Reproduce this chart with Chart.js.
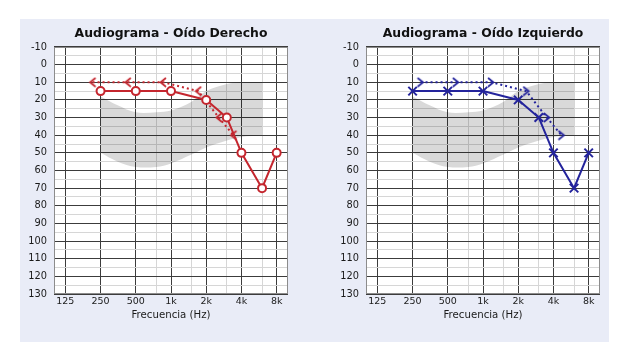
<!DOCTYPE html>
<html><head><meta charset="utf-8">
<script src="https://cdn.jsdelivr.net/npm/chart.js@4"></script>
<style>
html,body{margin:0;padding:0;background:#fff;width:634px;height:360px;overflow:hidden;position:relative}
#panel{position:absolute;left:20px;top:19px;width:589px;height:323px;background:#e9ecf7}
canvas{position:absolute;top:0}
#cR{left:0}
#cL{left:317px}
</style></head><body>
<div id="panel"></div>
<canvas id="cR" width="317" height="360"></canvas>
<canvas id="cL" width="317" height="360"></canvas>
<script>
// ---- data ----
const tickFreqs = [125, 250, 500, 1000, 2000, 4000, 8000];
const tickLabels = ['125', '250', '500', '1k', '2k', '4k', '8k'];
const midFreqs = [750, 1500, 3000, 6000];
const airFreqs = [250, 500, 1000, 2000, 3000, 4000, 6000, 8000];
const rightAir = [15, 15, 15, 20, 30, 50, 70, 50];
const leftAir = [15, 15, 15, 20, 30, 50, 70, 50];
const boneFreqs = [250, 500, 1000, 2000, 3000, 4000];
const rightBone = [10, 10, 10, 15, 30, 40];
const leftBone = [10, 10, 10, 15, 30, 40];
const bananaFreqs = [250, 350, 500, 750, 1000, 1500, 2000, 3000, 4000, 6000];
const bananaTop = [18, 23, 27, 27, 26, 21, 15, 11, 10, 10];
const bananaBottom = [50, 55, 58, 58, 56, 51, 47, 43, 41, 40];

const RED = '#c4262e', BLUE = '#24249c';
const DARK = '#3c3c3c', LIGHT = '#d6d6d6', FRAME = '#8c8c8c';
const FONT = 'DejaVu Sans';

function pts(xs, ys) { return xs.map((x, i) => ({x: x, y: ys[i]})); }

function chevron(dir, color) {
  const c = document.createElement('canvas');
  c.width = 10; c.height = 11;
  const g = c.getContext('2d');
  g.strokeStyle = color; g.lineWidth = 1.7; g.lineCap = 'round';
  g.beginPath();
  if (dir < 0) { g.moveTo(7.5, 1.5); g.lineTo(2.5, 5.5); g.lineTo(7.5, 9.5); }
  else { g.moveTo(2.5, 1.5); g.lineTo(7.5, 5.5); g.lineTo(2.5, 9.5); }
  g.stroke();
  return c;
}

const shiftPlugin = {
  id: 'shiftDs',
  beforeDatasetDraw(chart, args) {
    const ds = chart.data.datasets[args.index];
    if (ds.shiftX) { chart.ctx.save(); chart.ctx.translate(ds.shiftX, 0); }
  },
  afterDatasetDraw(chart, args) {
    const ds = chart.data.datasets[args.index];
    if (ds.shiftX) chart.ctx.restore();
  }
};
const framePlugin = {
  id: 'frame',
  beforeDraw(chart) {
    const a = chart.chartArea, c = chart.ctx;
    c.save(); c.fillStyle = '#fff';
    c.fillRect(a.left, a.top, a.right - a.left, a.bottom - a.top);
    c.restore();
  },
  beforeDatasetsDraw(chart) {
    const a = chart.chartArea, c = chart.ctx;
    c.save(); c.strokeStyle = FRAME; c.lineWidth = 1;
    const l = Math.round(a.left) + 0.5, t = Math.round(a.top) + 0.5;
    const r = Math.round(a.right) - 0.5, b = Math.round(a.bottom) - 0.5;
    c.strokeRect(l, t, r - l, b - t);
    c.restore();
  }
};

function makeChart(id, title, color, air, bone, airStyle, airRadius, airFill, chevDir, shift, pad) {
  const gridFreqs = tickFreqs.concat(midFreqs).sort((a, b) => a - b);
  return new Chart(document.getElementById(id), {
    type: 'line',
    data: {
      datasets: [
        {data: pts(airFreqs, air), borderColor: color, borderWidth: 2,
         pointStyle: airStyle, pointRadius: airRadius, pointBorderWidth: 2,
         pointBorderColor: color, pointBackgroundColor: airFill, fill: false, tension: 0},
        {data: pts(boneFreqs, bone), borderColor: color, borderWidth: 2, borderDash: [2, 3],
         pointStyle: chevron(chevDir, color), pointRadius: 5, fill: false, tension: 0, shiftX: shift},
        {data: pts(bananaFreqs, bananaTop), borderWidth: 0, borderColor: 'rgba(0,0,0,0)',
         pointRadius: 0, fill: false, tension: 0.35},
        {data: pts(bananaFreqs, bananaBottom), borderWidth: 0, borderColor: 'rgba(0,0,0,0)',
         pointRadius: 0, fill: '-1', backgroundColor: 'rgba(0,0,0,0.15)', tension: 0.35}
      ]
    },
    options: {
      responsive: false, animation: false, devicePixelRatio: 1,
      layout: {padding: pad},
      plugins: {
        legend: {display: false}, tooltip: {enabled: false},
        title: {display: true, text: title, fullSize: false, color: '#111',
                font: {family: FONT, size: 12.4, weight: 'bold'}, padding: {top: 0, bottom: 6.1}}
      },
      scales: {
        x: {
          type: 'logarithmic', min: 100, max: 10000,
          afterBuildTicks: s => { s.ticks = gridFreqs.map(v => ({value: v})); },
          afterFit: s => { s.height = 27; },
          ticks: {autoSkip: false, maxRotation: 0, minRotation: 0, padding: 2, color: '#1a1a1a',
                  font: {family: FONT, size: 9.5},
                  callback: v => { const i = tickFreqs.indexOf(v); return i >= 0 ? tickLabels[i] : ''; }},
          grid: {color: c => (c.tick && tickFreqs.includes(c.tick.value)) ? DARK : LIGHT, drawTicks: false},
          border: {display: false},
          title: {display: true, text: 'Frecuencia (Hz)', color: '#1a1a1a',
                  font: {family: FONT, size: 10.2}, padding: {top: 0, bottom: 0}}
        },
        y: {
          type: 'linear', reverse: true, min: -10, max: 130,
          afterFit: s => { s.width = 33; },
          ticks: {stepSize: 5, autoSkip: false, padding: 7, color: '#1a1a1a', font: {family: FONT, size: 9.8},
                  callback: v => (v % 10 === 0 ? String(v) : '')},
          grid: {color: c => (c.tick && c.tick.value % 10 === 0) ? DARK : LIGHT, drawTicks: false},
          border: {display: false}
        }
      }
    },
    plugins: [shiftPlugin, framePlugin]
  });
}

makeChart('cR', 'Audiograma - Oído Derecho', RED, rightAir, rightBone, 'circle', 4, '#fff', -1, -8,
  {left: 21, right: 29, top: 26, bottom: 39});
makeChart('cL', 'Audiograma - Oído Izquierdo', BLUE, leftAir, leftBone, 'crossRot', 6, BLUE, 1, 8,
  {left: 16, right: 34, top: 26, bottom: 39});
</script>
</body></html>
